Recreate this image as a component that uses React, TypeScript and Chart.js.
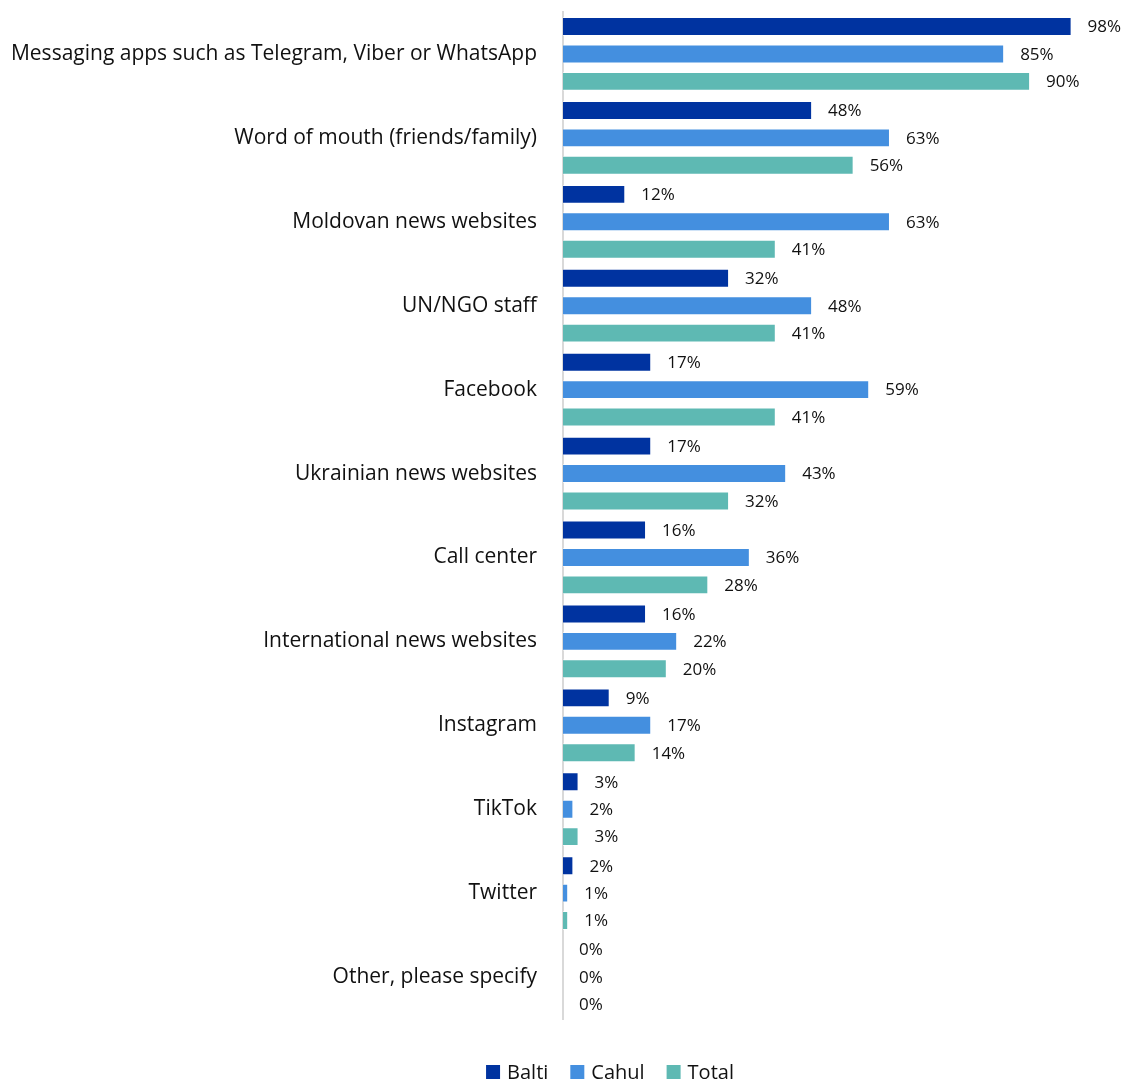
import React, { useEffect, useRef } from "react";
import { Chart, registerables } from "chart.js";

Chart.register(...registerables);

const categories = [
  "Messaging apps such as Telegram, Viber or WhatsApp",
  "Word of mouth (friends/family)",
  "Moldovan news websites",
  "UN/NGO staff",
  "Facebook",
  "Ukrainian news websites",
  "Call center",
  "International news websites",
  "Instagram",
  "TikTok",
  "Twitter",
  "Other, please specify",
];

const balti = [98, 48, 12, 32, 17, 17, 16, 16, 9, 3, 2, 0];
const cahul = [85, 63, 63, 48, 59, 43, 36, 22, 17, 2, 1, 0];
const total = [90, 56, 41, 41, 41, 32, 28, 20, 14, 3, 1, 0];

const seriesNames = ["Balti", "Cahul", "Total"];
const seriesColors = ["#0033A0", "#448FDF", "#5EB9B3"];

const FONT = "'Open Sans', Lato, sans-serif";

// Writes the percentage just past the end of every bar
const valueLabels = {
  id: "valueLabels",
  afterDatasetsDraw(chart: any) {
    const ctx = chart.ctx;
    ctx.save();
    ctx.font = `17px ${FONT}`;
    ctx.fillStyle = "#111";
    ctx.textAlign = "left";
    ctx.textBaseline = "middle";
    chart.data.datasets.forEach((ds: any, i: number) => {
      const meta = chart.getDatasetMeta(i);
      meta.data.forEach((bar: any, j: number) => {
        ctx.fillText(`${ds.data[j]}%`, bar.x + 16, bar.y + 1);
      });
    });
    ctx.restore();
  },
};

// Row of square swatches with series names, centred under the plot
const bottomLegend = {
  id: "bottomLegend",
  afterDraw(chart: any) {
    const ctx = chart.ctx;
    const box = 14;
    const textGap = 7;
    const itemGap = 22;
    const y = 1072;
    const centerX = 610;
    ctx.save();
    ctx.font = `20px ${FONT}`;
    ctx.textBaseline = "middle";
    ctx.textAlign = "left";
    const items = chart.data.datasets.map((ds: any) => ({
      label: ds.label,
      color: ds.backgroundColor,
      w: box + textGap + ctx.measureText(ds.label).width,
    }));
    const totalW =
      items.reduce((s: number, it: any) => s + it.w, 0) + itemGap * (items.length - 1);
    let x = centerX - totalW / 2;
    items.forEach((it: any) => {
      ctx.fillStyle = it.color;
      ctx.fillRect(x, y - box / 2, box, box);
      ctx.fillStyle = "#111";
      ctx.fillText(it.label, x + box + textGap, y + 1);
      x += it.w + itemGap;
    });
    ctx.restore();
  },
};

export default function App() {
  const ref = useRef<HTMLCanvasElement>(null);

  useEffect(() => {
    if (!ref.current) return;
    const chart = new Chart(ref.current, {
      type: "bar",
      data: {
        labels: categories,
        datasets: [balti, cahul, total].map((d, i) => ({
          label: seriesNames[i],
          data: d,
          backgroundColor: seriesColors[i],
          borderColor: "rgba(255,255,255,0.6)",
          borderWidth: 1,
          categoryPercentage: 0.98,
          barPercentage: 0.69,
        })),
      },
      options: {
        indexAxis: "y",
        animation: false,
        responsive: false,
        maintainAspectRatio: false,
        layout: { padding: { top: 12, right: 44, bottom: 64, left: 0 } },
        scales: {
          x: {
            min: 0,
            max: 100,
            display: false,
          },
          y: {
            grid: { display: false, drawTicks: false },
            border: { display: true, color: "#D9D9D9", width: 2 },
            ticks: {
              color: "#111",
              padding: 26,
              font: { family: FONT, size: 21 },
            },
            afterFit: (s: any) => {
              s.width = 563;
              s.paddingTop = 0;
              s.paddingBottom = 0;
            },
          },
        },
        plugins: {
          legend: { display: false },
          tooltip: { enabled: false },
        },
      },
      plugins: [valueLabels, bottomLegend],
    });
    return () => chart.destroy();
  }, []);

  return (
    <div style={{ position: "fixed", left: 0, top: 0, width: 1126, height: 1083, background: "#fff" }}>
      <canvas ref={ref} width={1126} height={1083} />
    </div>
  );
}
